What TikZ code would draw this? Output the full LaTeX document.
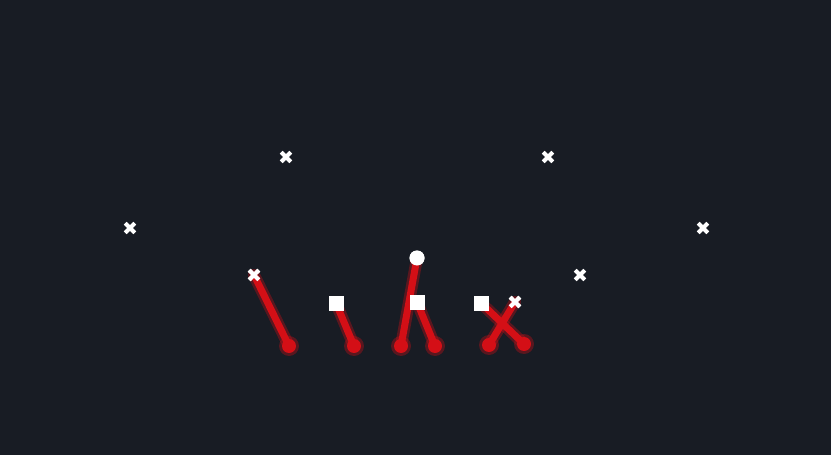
\documentclass[tikz,border=0pt]{standalone}
\begin{document}
\begin{tikzpicture}[x=1pt,y=-1pt,
  xmark/.style={draw=none,minimum size=14pt,inner sep=0pt,
    path picture={\draw[white,line width=4pt]
      ([xshift=2.2pt,yshift=-2.2pt]path picture bounding box.north west) -- ([xshift=-2.2pt,yshift=2.2pt]path picture bounding box.south east)
      ([xshift=-2.2pt,yshift=-2.2pt]path picture bounding box.north east) -- ([xshift=2.2pt,yshift=2.2pt]path picture bounding box.south west);}},
  sqmark/.style={fill=white,minimum size=15pt,inner sep=0pt,draw=none},
  cmark/.style={circle,fill=white,minimum size=15pt,inner sep=0pt,draw=none},
  route/.style={draw=routered,line width=7pt,line cap=round},
  glow/.style={draw=routered,line width=12pt,line cap=round,opacity=0.35},
  tip/.style={circle,fill=routered,minimum size=14pt,inner sep=0pt,draw=none}]
\definecolor{bgc}{HTML}{181C24}
\definecolor{routered}{HTML}{D40F16}
\fill[bgc] (0,0) rectangle (831,455);
\useasboundingbox (0,0) rectangle (831,455);
% players
\node[xmark] (x1) at (286,157) {};
\node[xmark] (x2) at (548,157) {};
\node[xmark] (x3) at (130,228) {};
\node[xmark] (x4) at (703,228) {};
\node[xmark] (x5) at (254,275) {};
\node[xmark] (x6) at (580,275) {};
\node[xmark] (x7) at (515,302) {};
\node[cmark] (c1) at (417,258) {};
\node[sqmark] (s1) at (336,303) {};
\node[sqmark] (s2) at (417,302) {};
\node[sqmark] (s3) at (481,303) {};
% route ends
\coordinate (e1) at (289,346);
\coordinate (e2) at (354,346);
\coordinate (e3) at (401,346);
\coordinate (e4) at (435,346);
\coordinate (e5) at (489,345);
\coordinate (e6) at (524,344);
\foreach \a/\b in {x5/e1,s1/e2,c1/e3,s2/e4,x7/e5,s3/e6}{
  \draw[glow] (\a.center) -- (\b);
  \fill[routered,opacity=0.35] (\b) circle (10pt);
}
\foreach \a/\b in {x5/e1,s1/e2,c1/e3,s2/e4,x7/e5,s3/e6}{
  \draw[route] (\a.center) -- (\b);
  \node[tip] at (\b) {};
}
% redraw players on top
\node[xmark] at (x5) {};
\node[xmark] at (x7) {};
\node[cmark] at (c1) {};
\node[sqmark] at (s1) {};
\node[sqmark] at (s2) {};
\node[sqmark] at (s3) {};
\end{tikzpicture}
\end{document}
